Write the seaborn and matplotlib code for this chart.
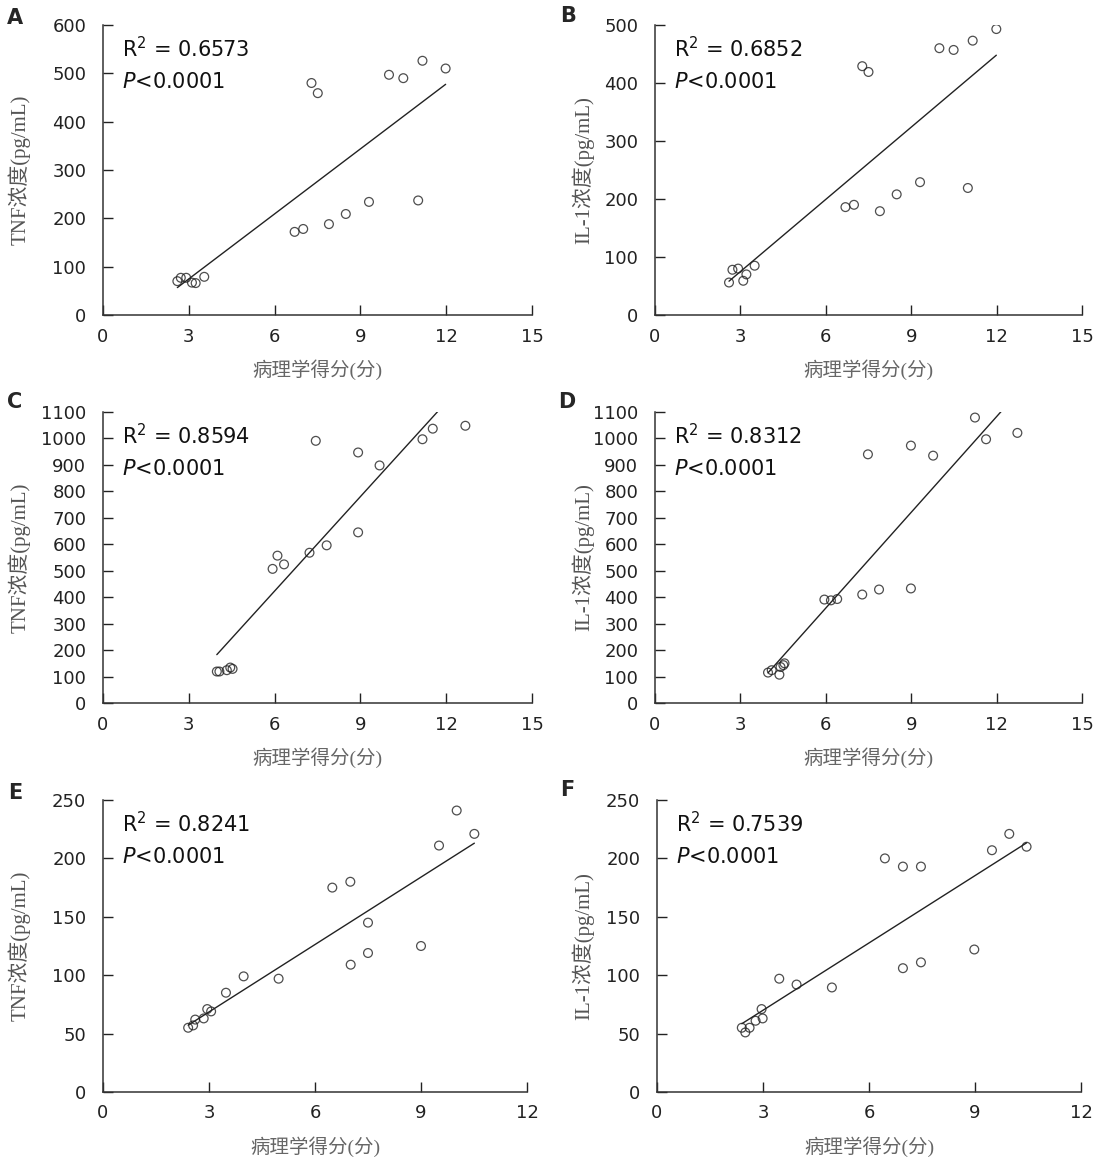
import numpy as np
import matplotlib
matplotlib.use('Agg')
import matplotlib.pyplot as plt
import seaborn as sns

# ========== 数据 ==========
a_x = [2.60, 2.72, 2.91, 3.11, 3.24, 3.54, 6.70, 7.00, 7.90, 8.49, 9.30, 11.02,
       7.29, 7.51, 10.00, 10.50, 11.17, 11.98]
a_y = [70, 77, 77, 67, 66, 79, 172, 178, 188, 209, 234, 237,
       480, 459, 497, 490, 526, 510]

b_x = [2.60, 2.72, 2.92, 3.10, 3.21, 3.50, 6.69, 6.99, 7.90, 8.49, 9.31, 10.99,
       7.28, 7.50, 9.99, 10.49, 11.16, 11.99]
b_y = [56, 78, 80, 59, 70, 85, 186, 190, 179, 208, 229, 219,
       429, 419, 460, 457, 473, 493]

c_x = [3.98, 4.07, 4.33, 4.45, 4.53, 5.93, 6.10, 6.33, 7.22, 7.82,
       7.44, 8.92, 8.92, 9.67, 11.17, 11.53, 12.67]
c_y = [119, 119, 124, 134, 129, 507, 557, 524, 568, 596,
       991, 947, 645, 898, 997, 1037, 1048]

d_x = [3.97, 4.10, 4.37, 4.41, 4.51, 4.55, 5.95, 6.18, 6.40, 7.28, 7.87, 8.99,
       7.48, 8.99, 9.77, 11.24, 11.63, 12.73]
d_y = [115, 124, 107, 136, 143, 150, 391, 388, 393, 410, 429, 433,
       940, 973, 935, 1079, 997, 1021]

e_x = [2.41, 2.55, 2.61, 2.85, 2.95, 3.06, 3.48, 3.98, 4.97, 6.49, 7.00, 7.01,
       7.50, 7.50, 9.00, 9.51, 10.01, 10.51]
e_y = [55, 57, 62, 63, 71, 69, 85, 99, 97, 175, 180, 109,
       145, 119, 125, 211, 241, 221]

f_x = [2.40, 2.50, 2.62, 2.79, 2.96, 2.99, 3.46, 3.95, 4.95, 6.45, 6.96, 7.47,
       6.96, 7.47, 8.98, 9.48, 9.97, 10.46]
f_y = [55, 51, 55, 61, 71, 63, 97, 92, 89.5, 200, 193, 193,
       106, 111, 122, 207, 221, 210]

letters = ['A', 'B', 'C', 'D', 'E', 'F']
r2_text = ['0.6573', '0.6852', '0.8594', '0.8312', '0.8241', '0.7539']
ylabels = ['TNF浓度(pg/mL)', 'IL-1浓度(pg/mL)'] * 3
xlabel = '病理学得分(分)'
xmax = [15, 15, 15, 15, 12, 12]
ymax = [600, 500, 1100, 1100, 250, 250]
ystep = [100, 100, 100, 100, 50, 50]

data = [(a_x, a_y), (b_x, b_y), (c_x, c_y), (d_x, d_y), (e_x, e_y), (f_x, f_y)]

# ========== 样式 ==========
sns.set_style('ticks')
plt.rcParams['font.family'] = ['DejaVu Sans', 'Noto Sans CJK SC']
plt.rcParams['axes.unicode_minus'] = False

W, H = 1102, 1169
fig = plt.figure(figsize=(W / 100, H / 100), dpi=100)

# 每个子图的像素位置 (left, top, right, bottom)
boxes = [(103, 25, 532, 315), (655, 25, 1082, 315),
         (103, 412, 532, 703), (655, 412, 1082, 703),
         (103, 800, 527, 1092), (657, 800, 1081, 1092)]
letter_pos = [(15, 18), (568, 16), (15, 402), (567, 402), (15, 793), (567, 790)]
ylabel_x = [31, 594, 31, 594, 31, 594]

label_font = ['Liberation Serif', 'Noto Sans CJK SC']

for i, (xs, ys) in enumerate(data):
    l, t, r, b = boxes[i]
    ax = fig.add_axes([l / W, 1 - b / H, (r - l) / W, (b - t) / H])
    sns.regplot(x=np.array(xs), y=np.array(ys), ax=ax, ci=None, truncate=True,
                marker='o',
                scatter_kws=dict(s=40, facecolors='none', edgecolors='#222222',
                                 linewidths=0.9),
                line_kws=dict(color='#222222', lw=1.0))
    ax.set_xlim(0, xmax[i])
    ax.set_ylim(0, ymax[i])
    ax.set_xticks(np.arange(0, xmax[i] + 0.1, 3))
    ax.set_yticks(np.arange(0, ymax[i] + 1, ystep[i]))
    ax.tick_params(direction='in', length=7, width=1, labelsize=13,
                   colors='#222222', pad=12)
    ax.tick_params(axis='x', pad=9)
    for sp in ['top', 'right']:
        ax.spines[sp].set_visible(False)
    for sp in ['left', 'bottom']:
        ax.spines[sp].set_color('#333333')
        ax.spines[sp].set_linewidth(1.1)
    ax.set_ylabel(ylabels[i], family=label_font, fontsize=15, color='#555555')
    ax.yaxis.set_label_coords((ylabel_x[i] - l) / (r - l), 0.5)
    ax.set_xlabel(xlabel, family=label_font, fontsize=14, color='#666666',
                  labelpad=10)
    ax.text(0.045, 0.92, r'R$^2$ = ' + r2_text[i], transform=ax.transAxes,
            fontsize=15, va='center', ha='left', color='#111111')
    ax.text(0.045, 0.805, r'$\mathit{P}$<0.0001', transform=ax.transAxes,
            fontsize=15, va='center', ha='left', color='#111111')
    fig.text(letter_pos[i][0] / W, 1 - letter_pos[i][1] / H, letters[i],
             fontsize=15, fontweight='bold', va='center', ha='center')

plt.savefig('out.png', dpi=100)
